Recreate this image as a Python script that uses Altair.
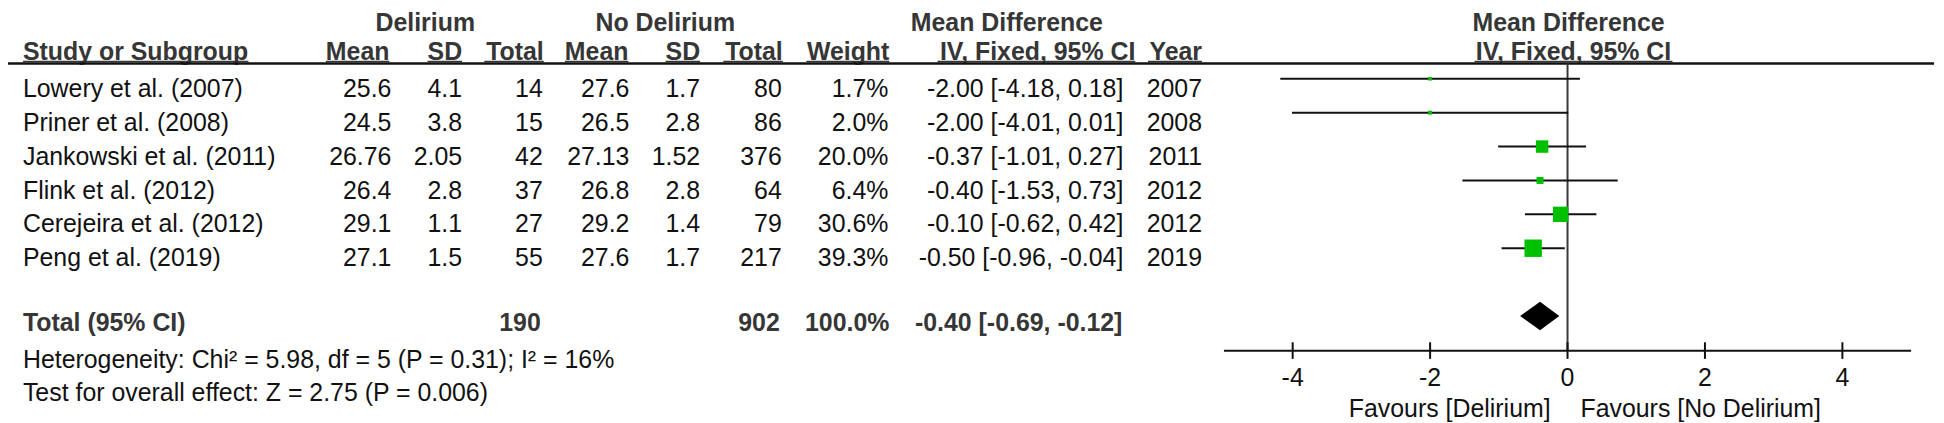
import altair as alt
import pandas as pd

# ---------------- data ----------------
studies = ["Lowery et al. (2007)", "Priner et al. (2008)", "Jankowski et al. (2011)",
           "Flink et al. (2012)", "Cerejeira et al. (2012)", "Peng et al. (2019)"]
del_mean = ["25.6", "24.5", "26.76", "26.4", "29.1", "27.1"]
del_sd = ["4.1", "3.8", "2.05", "2.8", "1.1", "1.5"]
del_total = [14, 15, 42, 37, 27, 55]
nodel_mean = ["27.6", "26.5", "27.13", "26.8", "29.2", "27.6"]
nodel_sd = ["1.7", "2.8", "1.52", "2.8", "1.4", "1.7"]
nodel_total = [80, 86, 376, 64, 79, 217]
weights = [1.7, 2.0, 20.0, 6.4, 30.6, 39.3]
md = [-2.00, -2.00, -0.37, -0.40, -0.10, -0.50]
ci_low = [-4.18, -4.01, -1.01, -1.53, -0.62, -0.96]
ci_high = [0.18, 0.01, 0.27, 0.73, 0.42, -0.04]
years = [2007, 2008, 2011, 2012, 2012, 2019]

total_label = "Total (95% CI)"
total_del = 190
total_nodel = 902
total_weight = 100.0
total_md = -0.40
total_low = -0.69
total_high = -0.12

heterogeneity = "Heterogeneity: Chi\u00b2 = 5.98, df = 5 (P = 0.31); I\u00b2 = 16%"
overall = "Test for overall effect: Z = 2.75 (P = 0.006)"

group_headers = ["Delirium", "No Delirium", "Mean Difference"]
col_headers = ["Study or Subgroup", "Mean", "SD", "Total", "Mean", "SD", "Total",
               "Weight", "IV, Fixed, 95% CI", "Year"]
plot_header_1 = "Mean Difference"
plot_header_2 = "IV, Fixed, 95% CI"

tick_values = [-4, -2, 0, 2, 4]
tick_labels = ["-4", "-2", "0", "2", "4"]
favours_left = "Favours [Delirium]"
favours_right = "Favours [No Delirium]"

# ---------------- styling / layout ----------------
FONT = "Liberation Sans"
FS = 25
TXT = "#111111"
BOLD = "#363636"
GREEN = "#00c000"
LINE = "#111111"

W, H = 1936, 415
yscale = alt.Scale(domain=[-2.598, 9.597], reverse=True, nice=False, zero=False)
xscale = alt.Scale(domain=[-5, 5], range=[1221, 1911], nice=False, zero=False)

R_HEAD1 = -1.937
R_HEAD2 = -1.096
R_ULINE = -1.045
R_HLINE = -0.985
R_TOTAL = 6.9
R_HET = 8.0
R_TEST = 8.97
R_AXIS = 7.49
R_TICK0, R_TICK1 = 7.24, 7.73
R_TICKLAB = 8.53
R_FAV = 9.435
MARK_OFF = -0.535
DIAMOND_H = 0.42

BOLD_W = {' ': 278, ',': 278, '%': 889, '5': 556, '9': 556, 'C': 722, 'D': 722, 'F': 611,
          'I': 278, 'M': 833, 'S': 667, 'T': 611, 'V': 667, 'W': 944, 'Y': 667, 'a': 556,
          'b': 611, 'd': 611, 'e': 556, 'g': 611, 'h': 611, 'i': 278, 'l': 278, 'n': 611,
          'o': 611, 'p': 611, 'r': 389, 't': 333, 'u': 611, 'x': 556, 'y': 556}


def bold_width(s):
    return sum(BOLD_W.get(c, 556) for c in s) / 1000.0 * FS


def ycode(field):
    return alt.Y(f"{field}:Q", scale=yscale, axis=None)


def label(text, row, x=None, align="left", bold=False, fx=None, dx=0):
    df = pd.DataFrame({"t": [text], "r": [row], "fx": [fx if fx is not None else 0]})
    enc = dict(y=ycode("r"), text="t:N")
    if fx is not None:
        enc["x"] = alt.X("fx:Q", scale=xscale, axis=None)
    else:
        enc["x"] = alt.value(x)
    return alt.Chart(df).mark_text(
        align=align, baseline="alphabetic", font=FONT, fontSize=FS,
        fontWeight="bold" if bold else "normal", color=BOLD if bold else TXT, dx=dx
    ).encode(**enc)


def hrule(x0, x1, row, width=2.0, color=LINE):
    df = pd.DataFrame({"r": [row]})
    return alt.Chart(df).mark_rule(color=color, strokeWidth=width).encode(
        x=alt.value(x0), x2=alt.value(x1), y=ycode("r"))


rows = list(range(len(studies)))
df = pd.DataFrame({
    "row": rows,
    "study": studies,
    "m1": del_mean, "s1": del_sd, "n1": del_total,
    "m2": nodel_mean, "s2": nodel_sd, "n2": nodel_total,
    "weight": weights,
    "wtxt": [f"{w:.1f}%" for w in weights],
    "md": md, "lo": ci_low, "hi": ci_high,
    "ci": [f"{m:.2f} [{l:.2f}, {h:.2f}]" for m, l, h in zip(md, ci_low, ci_high)],
    "year": years,
})
df["mrow"] = df["row"] + MARK_OFF


def col(field, x, align="right"):
    return alt.Chart(df).mark_text(
        align=align, baseline="alphabetic", font=FONT, fontSize=FS, color=TXT
    ).encode(x=alt.value(x), y=ycode("row"), text=f"{field}:N")


layers = []

# group headers (row 1)
layers.append(label(group_headers[0], R_HEAD1, x=419, align="center", bold=True))
layers.append(label(group_headers[1], R_HEAD1, x=660, align="center", bold=True))
layers.append(label(group_headers[2], R_HEAD1, x=1003, align="center", bold=True))
layers.append(label(plot_header_1, R_HEAD1, fx=0, align="center", bold=True, dx=1))

# column headers (row 2) with underlines
hdr_pos = [(15, "left"), (383, "right"), (456, "right"), (538, "right"), (623, "right"),
           (695, "right"), (778, "right"), (885, "right"), (1132, "right"), (1199, "right")]
for text, (x, al) in zip(col_headers, hdr_pos):
    layers.append(label(text, R_HEAD2, x=x, align=al, bold=True))
    w = bold_width(text)
    x0, x1 = (x, x + w) if al == "left" else (x - w, x)
    layers.append(hrule(x0, x1, R_ULINE, width=1.6, color=BOLD))
layers.append(label(plot_header_2, R_HEAD2, fx=0, align="center", bold=True, dx=6))
w2 = bold_width(plot_header_2)
layers.append(hrule(1572 - w2 / 2, 1572 + w2 / 2, R_ULINE, width=1.6, color=BOLD))

# long header line
layers.append(hrule(0, 1934, R_HLINE, width=2.4))

# study rows
layers.append(col("study", 15, align="left"))
layers.append(col("m1", 385))
layers.append(col("s1", 456))
layers.append(col("n1", 537))
layers.append(col("m2", 624))
layers.append(col("s2", 695))
layers.append(col("n2", 777))
layers.append(col("wtxt", 884))
layers.append(col("ci", 1120))
layers.append(col("year", 1199))

# total row
layers.append(label(total_label, R_TOTAL, x=15, align="left", bold=True))
layers.append(label(str(total_del), R_TOTAL, x=535, align="right", bold=True))
layers.append(label(str(total_nodel), R_TOTAL, x=775, align="right", bold=True))
layers.append(label(f"{total_weight:.1f}%", R_TOTAL, x=885, align="right", bold=True))
layers.append(label(f"{total_md:.2f} [{total_low:.2f}, {total_high:.2f}]", R_TOTAL,
                    x=1119, align="right", bold=True))

# heterogeneity / overall effect
layers.append(label(heterogeneity, R_HET, x=15, align="left"))
layers.append(label(overall, R_TEST, x=15, align="left"))

# ---------------- forest plot ----------------
# zero line
zdf = pd.DataFrame({"x": [0.0], "r0": [R_HLINE], "r1": [R_AXIS]})
layers.append(alt.Chart(zdf).mark_rule(color="#3a3a3a", strokeWidth=2).encode(
    x=alt.X("x:Q", scale=xscale, axis=None), y=ycode("r0"), y2="r1:Q"))

# CI lines
layers.append(alt.Chart(df).mark_rule(color=LINE, strokeWidth=2).encode(
    x=alt.X("lo:Q", scale=xscale, axis=None), x2="hi:Q", y=ycode("mrow")))

# weight squares
layers.append(alt.Chart(df).mark_square(filled=True, color=GREEN, opacity=1, strokeWidth=0).encode(
    x=alt.X("md:Q", scale=xscale, axis=None), y=ycode("mrow"),
    size=alt.Size("weight:Q", scale=alt.Scale(type="linear", domain=[0, 100], range=[0, 780]),
                  legend=None)))

# diamond
drow = 7 + MARK_OFF
ddf = pd.DataFrame({
    "x": [total_low, total_md, total_high],
    "ytop": [drow, drow - DIAMOND_H, drow],
    "ybot": [drow, drow + DIAMOND_H, drow],
})
layers.append(alt.Chart(ddf).mark_area(orient="vertical", color="black", opacity=1).encode(
    x=alt.X("x:Q", scale=xscale, axis=None), y=ycode("ytop"), y2="ybot:Q"))

# axis line
adf = pd.DataFrame({"x0": [xscale.domain[0]], "x1": [xscale.domain[1]], "r": [R_AXIS]})
layers.append(alt.Chart(adf).mark_rule(color=LINE, strokeWidth=2).encode(
    x=alt.X("x0:Q", scale=xscale, axis=None), x2="x1:Q", y=ycode("r")))

# ticks + labels
tdf = pd.DataFrame({"v": tick_values, "lab": tick_labels,
                    "r0": [R_TICK0] * len(tick_values), "r1": [R_TICK1] * len(tick_values),
                    "rl": [R_TICKLAB] * len(tick_values)})
layers.append(alt.Chart(tdf).mark_rule(color=LINE, strokeWidth=2).encode(
    x=alt.X("v:Q", scale=xscale, axis=None), y=ycode("r0"), y2="r1:Q"))
layers.append(alt.Chart(tdf).mark_text(
    align="center", baseline="alphabetic", font=FONT, fontSize=FS, color=TXT).encode(
    x=alt.X("v:Q", scale=xscale, axis=None), y=ycode("rl"), text="lab:N"))

# favours labels
layers.append(label(favours_left, R_FAV, fx=0, align="right", dx=-17))
layers.append(label(favours_right, R_FAV, fx=0, align="left", dx=13))

chart = alt.layer(*layers).properties(
    width=W, height=H, padding=0,
    autosize=alt.AutoSizeParams(type="none"),
    background="white",
).configure_view(stroke=None)

chart.save("out.html", embed_options={"renderer": "svg", "actions": False})
